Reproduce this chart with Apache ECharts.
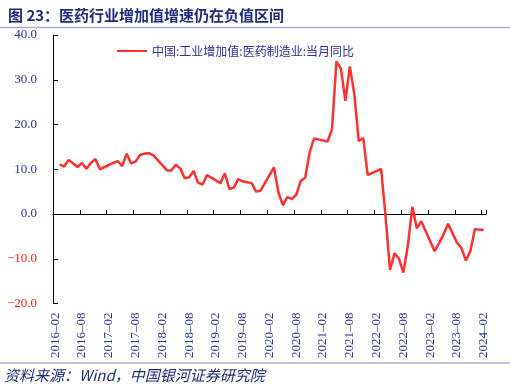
<!DOCTYPE html>
<html>
<head>
<meta charset="utf-8">
<script src="https://cdn.jsdelivr.net/npm/echarts@6/dist/echarts.min.js"></script>
<style>
html,body{margin:0;padding:0;background:#fff;}
#main{width:510px;height:388px;}
</style>
</head>
<body>
<div id="main"></div>
<script>
// 中国:工业增加值:医药制造业:当月同比（%），每年1、2月无当月值
var years = [2016, 2017, 2018, 2019, 2020, 2021, 2022, 2023, 2024];
// 各年 1月~12月
var v2016 = [null, null, 11.1, 10.6, 12.1, 11.3, 10.5, 11.4, 10.1, 11.4, 12.3, 10.0];
var v2017 = [null, null, 11.4, 11.8, 10.7, 13.5, 11.3, 11.7, 13.2, 13.5, 13.6, 13.1];
var v2018 = [null, null, 9.8, 9.7, 11.0, 10.2, 8.0, 8.2, 9.6, 7.0, 6.6, 8.7];
var v2019 = [null, null, 6.9, 9.1, 5.6, 5.9, 7.8, 7.3, 7.1, 6.9, 5.0, 5.2];
var v2020 = [null, null, 10.4, 4.8, 2.0, 3.8, 3.3, 4.3, 7.4, 8.1, 13.8, 16.9];
var v2021 = [null, null, 16.2, 18.9, 34.1, 32.5, 25.3, 33.0, 26.8, 16.3, 17.0, 8.7];
var v2022 = [null, null, 10.1, -0.5, -12.5, -8.8, -10.0, -13.1, -7.0, 1.6, -3.2, -1.6];
var v2023 = [null, null, -8.3, -6.5, -4.5, -2.2, -4.3, -6.4, -7.6, -10.4, -8.3, -3.4];
var v2024 = [null, -3.6];

var yTicks = [-20, -10, 0, 10, 20, 30, 40];
var seriesName = '中国:工业增加值:医药制造业:当月同比';

var yearData = [v2016, v2017, v2018, v2019, v2020, v2021, v2022, v2023, v2024];
var months = [];
var values = [];
for (var i = 0; i < years.length; i++) {
    for (var j = 0; j < yearData[i].length; j++) {
        if (years[i] == 2016 && j == 0) continue; // 从2016-02开始
        months.push(years[i] + '-' + (j < 9 ? '0' : '') + (j + 1));
        values.push(yearData[i][j]);
    }
}

var navy = '#2e3192';
var chart = echarts.init(document.getElementById('main'));
chart.setOption({
    animation: false,
    backgroundColor: '#fff',
    title: {
        text: '图 23：医药行业增加值增速仍在负值区间',
        left: 3, top: 3,
        textStyle: {fontSize: 15, fontWeight: 'bold', color: '#1f2a7c', fontFamily: 'Noto Sans CJK SC'}
    },
    legend: {
        data: [seriesName],
        left: 112, top: 40,
        icon: 'rect', itemWidth: 30, itemHeight: 2,
        textStyle: {fontSize: 12, color: navy, fontFamily: 'Noto Sans CJK SC'}
    },
    grid: {left: 53, right: 24, top: 35, height: 268.5},
    xAxis: [{
        type: 'category',
        data: months,
        boundaryGap: true,
        position: 'bottom',
        axisLine: {show: false, onZero: false},
        axisTick: {show: false},
        axisLabel: {
            interval: 5, rotate: 90, margin: 9,
            fontSize: 13, fontFamily: 'Liberation Serif', color: navy,
            formatter: function (v) { return v.replace('-', '–'); }
        }
    }, {
        type: 'category',
        data: months,
        boundaryGap: true,
        position: 'bottom',
        axisLine: {show: true, onZero: true, lineStyle: {color: '#000', width: 1}},
        axisTick: {show: true, inside: true, interval: 5, length: 4, lineStyle: {color: '#000'}},
        axisLabel: {show: false}
    }],
    yAxis: {
        type: 'value',
        min: yTicks[0], max: yTicks[yTicks.length - 1], interval: 10,
        splitLine: {show: false},
        axisLine: {show: true, lineStyle: {color: '#000', width: 1}},
        axisTick: {show: true, inside: true, length: 5, lineStyle: {color: '#000'}},
        axisLabel: {
            margin: 16, fontSize: 13, fontFamily: 'Liberation Serif',
            formatter: function (v) { return v.toFixed(1).replace('-', '−'); },
            color: function (v) { return parseFloat(v) < 0 ? '#ff2020' : navy; }
        }
    },
    series: [{
        name: seriesName,
        type: 'line',
        data: values,
        connectNulls: true,
        symbol: 'none',
        lineStyle: {color: '#ff3030', width: 2.5},
        itemStyle: {color: '#ff3030'}
    }],
    graphic: [
        {type: 'line', shape: {x1: 0, y1: 27.5, x2: 510, y2: 27.5}, style: {stroke: '#a9a9d4', lineWidth: 1.5}},
        {type: 'line', shape: {x1: 0, y1: 363, x2: 510, y2: 363}, style: {stroke: '#a9a9d4', lineWidth: 1.5}},
        {type: 'text', left: 4, top: 368, style: {
            text: '资料来源：Wind，中国银河证券研究院',
            font: 'italic 15px "Noto Sans CJK SC"', fill: '#1f2a7c'
        }}
    ]
});
</script>
</body>
</html>
